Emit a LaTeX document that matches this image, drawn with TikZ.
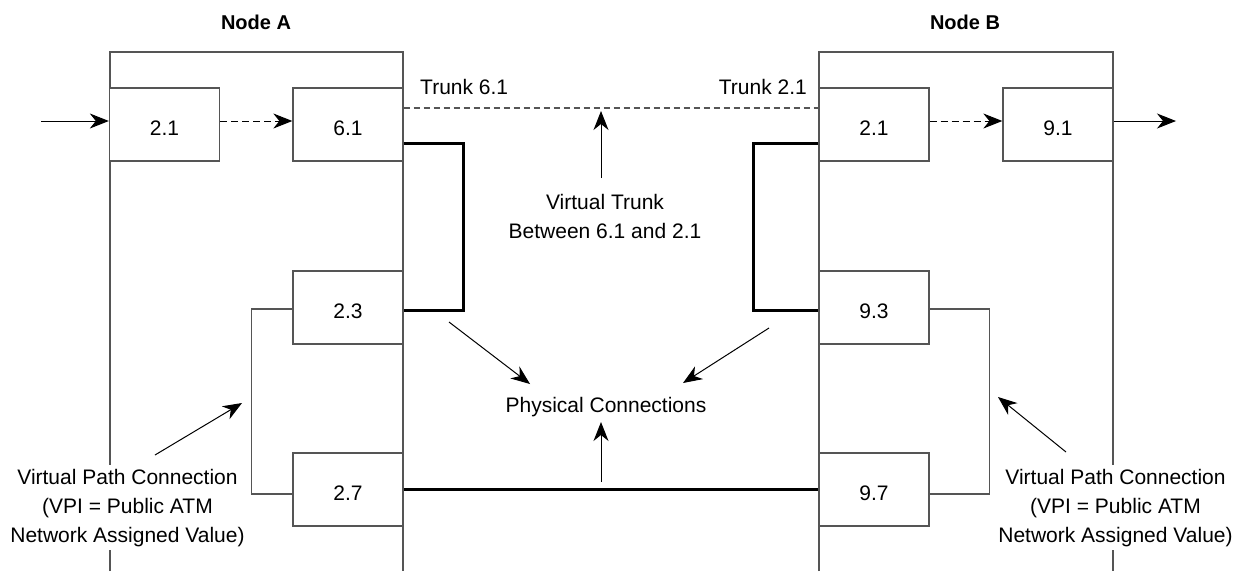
\documentclass[tikz,border=0pt]{standalone}
\usepackage{fontspec}
\setmainfont{Liberation Sans}
\usetikzlibrary{arrows.meta}
\definecolor{boxgray}{RGB}{85,85,85}
\begin{document}
\begin{tikzpicture}[x=1pt,y=-1pt,
  port/.style={draw=boxgray,line width=1.3pt,minimum width=110pt,minimum height=73pt,inner sep=0pt,
    text height=21pt,text depth=0pt,font=\fontsize{21}{29}\selectfont,fill=white},
  frame/.style={draw=boxgray,line width=1.3pt},
  arr/.style={-{Stealth[length=19pt,width=15pt,inset=6pt]},line width=1pt,black},
  dasharr/.style={arr,dash pattern=on 7pt off 4pt},
  trunkline/.style={draw=boxgray,line width=1.2pt,dash pattern=on 6pt off 4pt},
  phys/.style={line width=3pt,black},
  vpc/.style={draw=boxgray,line width=1.2pt},
  lbl/.style={font=\fontsize{21}{29}\selectfont,align=center,inner sep=0pt},
  title/.style={font=\bfseries\fontsize{20}{24}\selectfont,inner sep=0pt}
]
\useasboundingbox (0,0) rectangle (1236,571);

% node frames
\draw[frame] (110,571) -- (110,52) -- (403,52) -- (403,571);
\draw[frame] (819,571) -- (819,52) -- (1113,52) -- (1113,571);

% titles
\node[title,anchor=base] (na) at (256,29) {Node A};
\node[title,anchor=base] (nb) at (965,29) {Node B};

% ports
\node[port] (a21) at (164.5,124.5) {2.1};
\node[port] (a61) at (348,124.5) {6.1};
\node[port] (a23) at (348,307.5) {2.3};
\node[port] (a27) at (348,489.5) {2.7};
\node[port] (b21) at (874,124.5) {2.1};
\node[port] (b91) at (1058,124.5) {9.1};
\node[port] (b93) at (874,307.5) {9.3};
\node[port] (b97) at (874,489.5) {9.7};

% flow arrows
\coordinate (in) at (41,121);
\coordinate (out) at (1176,121);
\draw[arr] (in) -- ([yshift=3.5pt]a21.west);
\draw[dasharr] ([yshift=3.5pt]a21.east) -- ([yshift=3.5pt]a61.west);
\draw[dasharr] ([yshift=3.5pt]b21.east) -- ([yshift=3.5pt]b91.west);
\draw[arr] ([yshift=3.5pt]b91.east) -- (out);

% virtual trunk
\draw[trunkline] ([yshift=16.5pt]a61.east) -- ([yshift=16.5pt]b21.west);
\node[lbl,anchor=base west] (t61) at (420,94) {Trunk 6.1};
\node[lbl,anchor=base east] (t21) at (807,94) {Trunk 2.1};

% physical connections
\draw[phys] ([yshift=-18.5pt]a61.east) -- ++(60,0) |- ([yshift=-2.5pt]a23.east);
\draw[phys] ([yshift=-18.5pt]b21.west) -- ++(-65,0) |- ([yshift=-2.5pt]b93.west);
\draw[phys] (a27.east) -- (b97.west);

% virtual path connections
\draw[vpc] ([yshift=-1.5pt]a23.west) -- ++(-41,0) |- ([yshift=-4.5pt]a27.west);
\draw[vpc] ([yshift=-1.5pt]b93.east) -- ++(60,0) |- ([yshift=-4.5pt]b97.east);

% labels (base anchor = baseline of last line)
\node[lbl,anchor=base] (vt) at (605,238) {Virtual Trunk\\Between 6.1 and 2.1};
\node[lbl,anchor=base] (pc) at (606,412) {Physical Connections};
\node[lbl,anchor=base,fill=white,inner sep=4pt] (vpcA) at (127.5,542)
  {Virtual Path Connection\\(VPI = Public ATM\\Network Assigned Value)};
\node[lbl,anchor=base,fill=white,inner sep=4pt] (vpcB) at (1115.5,542)
  {Virtual Path Connection\\(VPI = Public ATM\\Network Assigned Value)};

% pointer arrows
\coordinate (vtT) at (601,178); \coordinate (vtH) at (601,111);
\draw[arr] (vtT) -- (vtH);
\coordinate (p1T) at (449,322); \coordinate (p1H) at (530,384);
\coordinate (p2T) at (769,328); \coordinate (p2H) at (683,383);
\coordinate (p3T) at (601,482); \coordinate (p3H) at (601,422);
\draw[arr] (p1T) -- (p1H);
\draw[arr] (p2T) -- (p2H);
\draw[arr] (p3T) -- (p3H);
\coordinate (v1T) at (155,455); \coordinate (v1H) at (242,403);
\coordinate (v2T) at (1066,452); \coordinate (v2H) at (998,397);
\draw[arr] (v1T) -- (v1H);
\draw[arr] (v2T) -- (v2H);
\end{tikzpicture}
\end{document}
